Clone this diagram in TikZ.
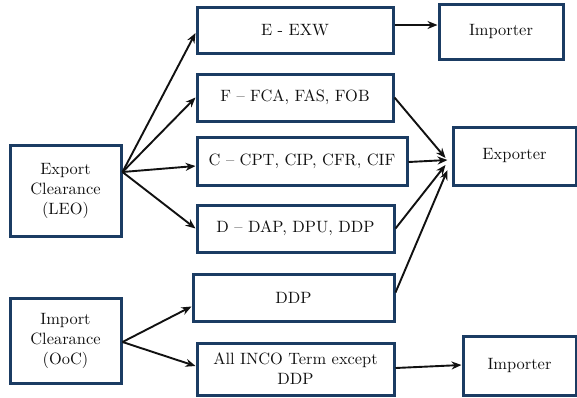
\documentclass[tikz,border=0pt]{standalone}
\usepackage{fontspec}
\newfontfamily\boxfont{lmroman10-regular.otf}
\usetikzlibrary{arrows.meta}
\definecolor{boxblue}{HTML}{1B3C63}
\definecolor{ink}{HTML}{111111}
\tikzset{
  box/.style={draw=boxblue, line width=3pt, fill=white, text=ink, align=center,
    inner sep=0pt, font=\boxfont\fontsize{16.4}{20}\selectfont},
  flow/.style={draw=ink, line width=1.9pt, -{Stealth[length=10pt,width=8pt]}}
}
\begin{document}
\begin{tikzpicture}[x=1pt,y=-1pt]
  \useasboundingbox (0,0) rectangle (577,397);

  % clearance stages
  \node[box, minimum width=111pt, minimum height=91pt] (exp) at (65.5,190.5) {Export\\Clearance\\(LEO)};
  \node[box, minimum width=111pt, minimum height=85pt] (imp) at (65.5,340.5) {Import\\Clearance\\(OoC)};

  % Incoterm groups
  \node[box, minimum width=196pt, minimum height=46pt] (e) at (295,30) {E - EXW};
  \node[box, minimum width=196pt, minimum height=47pt] (f) at (295,97.5) {F \textendash{} FCA, FAS, FOB};
  \node[box, minimum width=210pt, minimum height=48pt] (c) at (302,161) {C \textendash{} CPT, CIP, CFR, CIF};
  \node[box, minimum width=197pt, minimum height=47pt] (d) at (295.5,228.5) {D \textendash{} DAP, DPU, DDP};
  \node[box, minimum width=201pt, minimum height=47pt] (ddp) at (293.5,297.5) {DDP};
  \node[box, minimum width=197pt, minimum height=52pt] (all) at (295.5,369) {All INCO Term except\\DDP};

  % responsible parties
  \node[box, minimum width=124pt, minimum height=55pt] (imptop) at (501,31.5) {Importer};
  \node[box, minimum width=123pt, minimum height=58pt] (xp) at (514.5,156) {Exporter};
  \node[box, minimum width=113pt, minimum height=59pt] (impbot) at (519.5,365.5) {Importer};

  % export clearance fans out to the four groups
  \coordinate (expout) at ([yshift=18.5pt]exp.east);
  \draw[flow] (expout) -- ([yshift=-3pt]e.west);
  \draw[flow] (expout) -- (f.west);
  \draw[flow] (expout) -- ([yshift=-5pt]c.west);
  \draw[flow] (expout) -- (d.west);

  % who clears for each group
  \draw[flow] ([yshift=5pt]e.east) -- ([yshift=6.5pt]imptop.west);
  \draw[flow] (f.east) -- ([xshift=-6pt,yshift=-2pt]xp.west);
  \draw[flow] ([yshift=-1pt]c.east) -- ([xshift=-4pt,yshift=-4pt]xp.west);
  \draw[flow] (d.east) -- ([xshift=-6pt,yshift=-9pt]xp.west);
  \draw[flow] ([yshift=5pt]ddp.east) -- ([xshift=-4pt,yshift=-14pt]xp.west);

  % import clearance
  \coordinate (impout) at ([yshift=-1.5pt]imp.east);
  \draw[flow] (impout) -- ([yshift=-9pt]ddp.west);
  \draw[flow] (impout) -- ([yshift=3pt]all.west);
  \draw[flow] ([yshift=1pt]all.east) -- ([yshift=0.5pt]impbot.west);
\end{tikzpicture}
\end{document}
